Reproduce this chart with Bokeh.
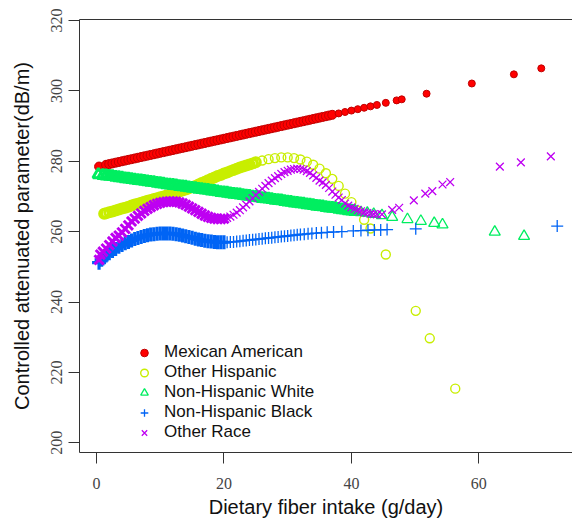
from bokeh.plotting import figure
from bokeh.models import ColumnDataSource, LinearAxis, FixedTicker
from bokeh.embed import file_html
from bokeh.resources import INLINE

# ---------------- data ----------------
x_ticks = [0, 20, 40, 60]
y_ticks = [200, 220, 240, 260, 280, 300, 320]

series_names = ["Mexican American", "Other Hispanic", "Non-Hispanic White",
                "Non-Hispanic Black", "Other Race"]

mex_x = [0.4, 1.5, 2.0, 2.5, 3.0, 3.5, 4.0, 4.5, 5.0, 5.5, 6.0, 6.5, 7.0, 7.5, 8.0, 8.5,
         9.0, 9.5, 10.0, 10.5, 11.0, 11.5, 12.0, 12.5, 13.0, 13.5, 14.0, 14.5, 15.0, 15.5,
         16.0, 16.5, 17.0, 17.5, 18.0, 18.5, 19.0, 19.5, 20.0, 20.5, 21.0, 21.5, 22.0, 22.5,
         23.0, 23.5, 24.0, 24.5, 25.0, 25.5, 26.0, 26.5, 27.0, 27.5, 28.0, 28.5, 29.0, 29.5,
         30.0, 30.5, 31.0, 31.5, 32.0, 32.5, 33.0, 33.5, 34.0, 34.5, 35.0, 35.5, 36.0, 36.5,
         37.0, 38.0, 39.0, 40.0, 41.0, 42.0, 43.0, 44.0, 45.4, 47.1, 47.9, 51.8, 58.9, 65.5, 69.8]
mex_y = [278.5, 279.0, 279.2, 279.4, 279.6, 279.8, 280.0, 280.2, 280.4, 280.6, 280.8, 281.0,
         281.2, 281.4, 281.6, 281.8, 282.0, 282.2, 282.4, 282.6, 282.8, 283.0, 283.2, 283.4,
         283.6, 283.8, 284.0, 284.2, 284.4, 284.6, 284.8, 285.0, 285.2, 285.4, 285.6, 285.8,
         286.0, 286.2, 286.4, 286.6, 286.8, 287.0, 287.2, 287.4, 287.6, 287.8, 288.0, 288.2,
         288.4, 288.6, 288.8, 289.0, 289.2, 289.4, 289.6, 289.8, 290.0, 290.2, 290.4, 290.6,
         290.8, 291.0, 291.2, 291.4, 291.6, 291.8, 292.0, 292.2, 292.4, 292.6, 292.8, 293.0,
         293.2, 293.6, 294.0, 294.4, 294.8, 295.2, 295.6, 296.0, 296.6, 297.3, 297.6, 299.2,
         302.1, 304.7, 306.4]

oth_his_x = [1.2, 1.5, 2.0, 2.5, 3.0, 3.5, 4.0, 4.5, 5.0, 5.5, 6.0, 6.5, 7.0, 7.5, 8.0, 8.5,
             9.0, 9.5, 10.0, 10.5, 11.0, 11.5, 12.0, 12.5, 13.0, 13.5, 14.0, 14.5, 15.0, 15.5,
             16.0, 16.5, 17.0, 17.5, 18.0, 18.5, 19.0, 19.5, 20.0, 20.5, 21.0, 21.5, 22.0, 22.5,
             23.0, 23.5, 24.0, 24.5, 25.0, 26.0, 27.0, 28.0, 29.0, 30.0, 31.0, 32.0, 33.0, 34.0,
             35.0, 36.0, 37.0, 38.0, 39.0, 40.0, 41.0, 42.0, 43.0, 45.4, 50.1, 52.3, 56.3]
oth_his_y = [265.1, 265.2, 265.5, 265.7, 266.0, 266.3, 266.6, 266.8, 267.1, 267.4, 267.7, 267.9,
             268.2, 268.5, 268.8, 269.0, 269.3, 269.5, 269.8, 270.0, 270.3, 270.5, 270.8, 271.1,
             271.4, 271.7, 272.0, 272.3, 272.7, 273.0, 273.4, 273.8, 274.2, 274.6, 275.0, 275.4,
             275.8, 276.1, 276.5, 276.8, 277.2, 277.5, 277.9, 278.2, 278.5, 278.8, 279.1, 279.4,
             279.7, 280.2, 280.6, 280.9, 281.1, 281.1, 280.9, 280.5, 279.9, 279.0, 277.9, 276.6,
             275.0, 273.0, 270.8, 268.4, 266.0, 263.4, 260.9, 253.5, 237.5, 229.7, 215.4]

white_x = [0.3, 1.0, 1.5, 2.0, 2.5, 3.0, 3.5, 4.0, 4.5, 5.0, 5.5, 6.0, 6.5, 7.0, 7.5, 8.0, 8.5,
           9.0, 9.5, 10.0, 10.5, 11.0, 11.5, 12.0, 12.5, 13.0, 13.5, 14.0, 14.5, 15.0, 15.5,
           16.0, 16.5, 17.0, 17.5, 18.0, 18.5, 19.0, 19.5, 20.0, 20.5, 21.0, 21.5, 22.0, 22.5,
           23.0, 23.5, 24.0, 24.5, 25.0, 25.5, 26.0, 26.5, 27.0, 27.5, 28.0, 28.5, 29.0, 29.5,
           30.0, 30.5, 31.0, 31.5, 32.0, 32.5, 33.0, 33.5, 34.0, 34.5, 35.0, 35.5, 36.0, 36.5,
           37.0, 37.5, 38.0, 38.5, 39.0, 39.5, 40.0, 40.5, 41.5, 42.5, 43.5, 44.8, 46.4, 48.8,
           50.9, 53.0, 54.3, 62.5, 67.1]
white_y = [276.2, 276.0, 275.9, 275.8, 275.7, 275.5, 275.4, 275.3, 275.1, 275.0, 274.9, 274.7,
           274.6, 274.5, 274.4, 274.2, 274.1, 274.0, 273.8, 273.7, 273.6, 273.4, 273.3, 273.2,
           273.1, 272.9, 272.8, 272.7, 272.5, 272.4, 272.3, 272.1, 272.0, 271.9, 271.8, 271.6,
           271.5, 271.4, 271.2, 271.1, 271.0, 270.8, 270.7, 270.6, 270.5, 270.3, 270.2, 270.1,
           269.9, 269.8, 269.7, 269.5, 269.4, 269.3, 269.2, 269.0, 268.9, 268.8, 268.6, 268.5,
           268.4, 268.2, 268.1, 268.0, 267.9, 267.7, 267.6, 267.5, 267.3, 267.2, 267.1, 266.9,
           266.8, 266.7, 266.6, 266.4, 266.3, 266.2, 266.0, 265.9, 265.8, 265.5, 265.3, 265.0,
           264.6, 264.1, 263.5, 263.0, 262.4, 262.0, 259.9, 258.7]

black_x = [0.4, 0.8, 1.0, 1.5, 2.0, 2.5, 3.0, 3.5, 4.0, 4.5, 5.0, 5.5, 6.0, 6.5, 7.0, 7.5, 8.0,
           8.5, 9.0, 9.5, 10.0, 10.5, 11.0, 11.5, 12.0, 12.5, 13.0, 13.5, 14.0, 14.5, 15.0, 15.5,
           16.0, 16.5, 17.0, 17.5, 18.0, 18.5, 19.0, 19.5, 20.0, 20.5, 21.0, 21.5, 22.0, 22.5,
           23.0, 23.5, 24.0, 24.5, 25.0, 25.5, 26.0, 26.5, 27.0, 27.5, 28.0, 28.5, 29.0, 29.5,
           30.0, 30.5, 31.0, 31.5, 32.0, 32.6, 33.2, 33.8, 34.5, 35.3, 36.2, 37.2, 38.5, 40.3,
           41.5, 42.6, 43.6, 44.6, 45.6, 50.1, 72.3]
black_y = [251.2, 252.0, 252.4, 253.2, 253.9, 254.5, 255.1, 255.7, 256.2, 256.7, 257.1, 257.5,
           257.9, 258.2, 258.5, 258.8, 259.0, 259.2, 259.3, 259.4, 259.5, 259.5, 259.5, 259.5,
           259.4, 259.3, 259.1, 258.9, 258.7, 258.5, 258.3, 258.0, 257.8, 257.6, 257.4, 257.3,
           257.2, 257.1, 257.0, 257.0, 257.0, 257.0, 257.1, 257.1, 257.2, 257.3, 257.4, 257.5,
           257.6, 257.7, 257.8, 257.9, 258.0, 258.1, 258.2, 258.3, 258.4, 258.5, 258.6, 258.7,
           258.8, 258.9, 259.0, 259.1, 259.2, 259.3, 259.4, 259.5, 259.6, 259.7, 259.8, 259.9,
           260.0, 260.2, 260.3, 260.4, 260.5, 260.5, 260.6, 260.8, 261.6]

oth_race_x = [0.4, 0.6, 1.0, 1.5, 2.0, 2.5, 3.0, 3.5, 4.0, 4.5, 5.0, 5.5, 6.0, 6.5, 7.0, 7.5,
              8.0, 8.5, 9.0, 9.5, 10.0, 10.5, 11.0, 11.5, 12.0, 12.5, 13.0, 13.5, 14.0, 14.5,
              15.0, 15.5, 16.0, 16.5, 17.0, 17.5, 18.0, 18.5, 19.0, 19.5, 20.0, 20.5, 21.0, 21.5,
              22.0, 22.5, 23.0, 23.5, 24.0, 24.5, 25.0, 25.5, 26.0, 26.5, 27.0, 27.5, 28.0, 28.5,
              29.0, 29.5, 30.0, 30.5, 31.0, 31.5, 32.0, 32.5, 33.0, 33.5, 34.0, 34.5, 35.0, 35.5,
              36.0, 36.5, 37.0, 37.5, 38.0, 38.5, 39.0, 39.5, 40.0, 40.5, 41.0, 41.5, 42.0, 42.5,
              43.0, 43.5, 44.0, 44.8, 46.4, 47.5, 49.8, 51.6, 52.7, 54.3, 55.5, 63.3, 66.6, 71.3]
oth_race_y = [252.0, 253.5, 254.3, 255.2, 256.2, 257.2, 258.2, 258.9, 259.8, 260.8, 261.8, 262.9,
              263.7, 264.5, 265.2, 265.9, 266.5, 267.0, 267.5, 267.9, 268.2, 268.4, 268.5, 268.6,
              268.6, 268.5, 268.3, 268.0, 267.6, 267.1, 266.6, 266.1, 265.6, 265.1, 264.6, 264.2,
              263.9, 263.7, 263.6, 263.6, 263.7, 263.9, 264.3, 264.8, 265.4, 266.1, 266.9, 267.7,
              268.6, 269.5, 270.4, 271.3, 272.2, 273.0, 273.8, 274.5, 275.2, 275.8, 276.4, 276.9,
              277.3, 277.6, 277.8, 277.9, 277.8, 277.6, 277.2, 276.7, 276.0, 275.3, 274.5, 274.0,
              273.3, 272.4, 271.4, 270.5, 269.7, 269.0, 268.0, 267.4, 266.9, 266.5, 266.1, 265.8,
              265.5, 265.3, 265.1, 265.0, 264.9, 264.9, 266.2, 266.8, 268.9, 270.8, 271.5, 273.4,
              274.1, 278.5, 279.7, 281.4]

# ---------------- figure ----------------
AX = "#333333"
p = figure(width=572, height=530, x_range=(-2.67, 74.7), y_range=(197.26, 320.28),
           output_backend="svg", toolbar_location=None,
           min_border_left=79, min_border_right=0, min_border_top=19, min_border_bottom=78,
           background_fill_color="white", border_fill_color="white")
p.outline_line_color = None
p.xgrid.visible = False
p.ygrid.visible = False

for ax in (p.xaxis, p.yaxis):
    ax.axis_line_color = AX
    ax.axis_line_width = 1
    ax.major_tick_line_color = AX
    ax.major_tick_out = 11
    ax.major_tick_in = 0
    ax.minor_tick_line_color = None
    ax.major_label_text_font = "Liberation Serif"
    ax.major_label_text_font_size = "16px"
    ax.major_label_text_color = "#444444"
    ax.axis_label_text_font = "Liberation Sans"
    ax.axis_label_text_font_size = "20px"
    ax.axis_label_text_font_style = "normal"
    ax.axis_label_text_color = "#111111"

p.xaxis.ticker = FixedTicker(ticks=x_ticks)
p.yaxis.ticker = FixedTicker(ticks=y_ticks)
p.xaxis.axis_label = "Dietary fiber intake (g/day)"
p.yaxis.axis_label = "Controlled attenuated parameter(dB/m)"
p.xaxis.major_label_standoff = 14
p.xaxis.axis_label_standoff = 4
p.yaxis.major_label_orientation = "vertical"
p.yaxis.major_label_standoff = 6
p.yaxis.axis_label_standoff = 16

top = LinearAxis(ticker=FixedTicker(ticks=[]), axis_line_color=AX,
                 major_tick_line_color=None, minor_tick_line_color=None,
                 major_label_text_font_size="0px")
p.add_layout(top, "above")


def split(xs, ys, limit):
    dense = dict(x=[a for a in xs if a <= limit], y=[b for a, b in zip(xs, ys) if a <= limit])
    sparse = dict(x=[a for a in xs if a > limit], y=[b for a, b in zip(xs, ys) if a > limit])
    return ColumnDataSource(dense), ColumnDataSource(sparse)


styles = [
    (mex_x, mex_y, 37.0, "circle", 9, 7, "#FF0000", "#C00000", 1.0, 1.0),
    (oth_his_x, oth_his_y, 25.0, "circle", 9, 9, None, "#C8EE00", 3.0, 1.4),
    (white_x, white_y, 40.5, "triangle", 11, 11, None, "#00EE60", 3.0, 1.3),
    (black_x, black_y, 20.0, "cross", 14, 12, None, "#0064F5", 3.2, 1.3),
    (oth_race_x, oth_race_y, 20.0, "x", 13, 11, None, "#BE00F2", 3.0, 1.3),
]

for name, (xs, ys, lim, mk, sz_d, sz_s, fc, lc, lw_d, lw_s) in zip(series_names, styles):
    d, s = split(xs, ys, lim)
    p.scatter("x", "y", source=d, marker=mk, size=sz_d, fill_color=fc,
              line_color=lc, line_width=lw_d)
    p.scatter("x", "y", source=s, marker=mk, size=sz_s, fill_color=fc,
              line_color=lc, line_width=lw_s, legend_label=name)

lg = p.legend[0]
lg.location = (55, 10)
lg.border_line_color = None
lg.background_fill_alpha = 0
lg.padding = 0
lg.margin = 0
lg.spacing = 0
lg.glyph_width = 20
lg.glyph_height = 19
lg.label_height = 19
lg.label_standoff = 10
lg.label_text_font = "Liberation Sans"
lg.label_text_font_size = "17px"
lg.label_text_color = "#111111"

open("out.html", "w").write(file_html(p, INLINE))
